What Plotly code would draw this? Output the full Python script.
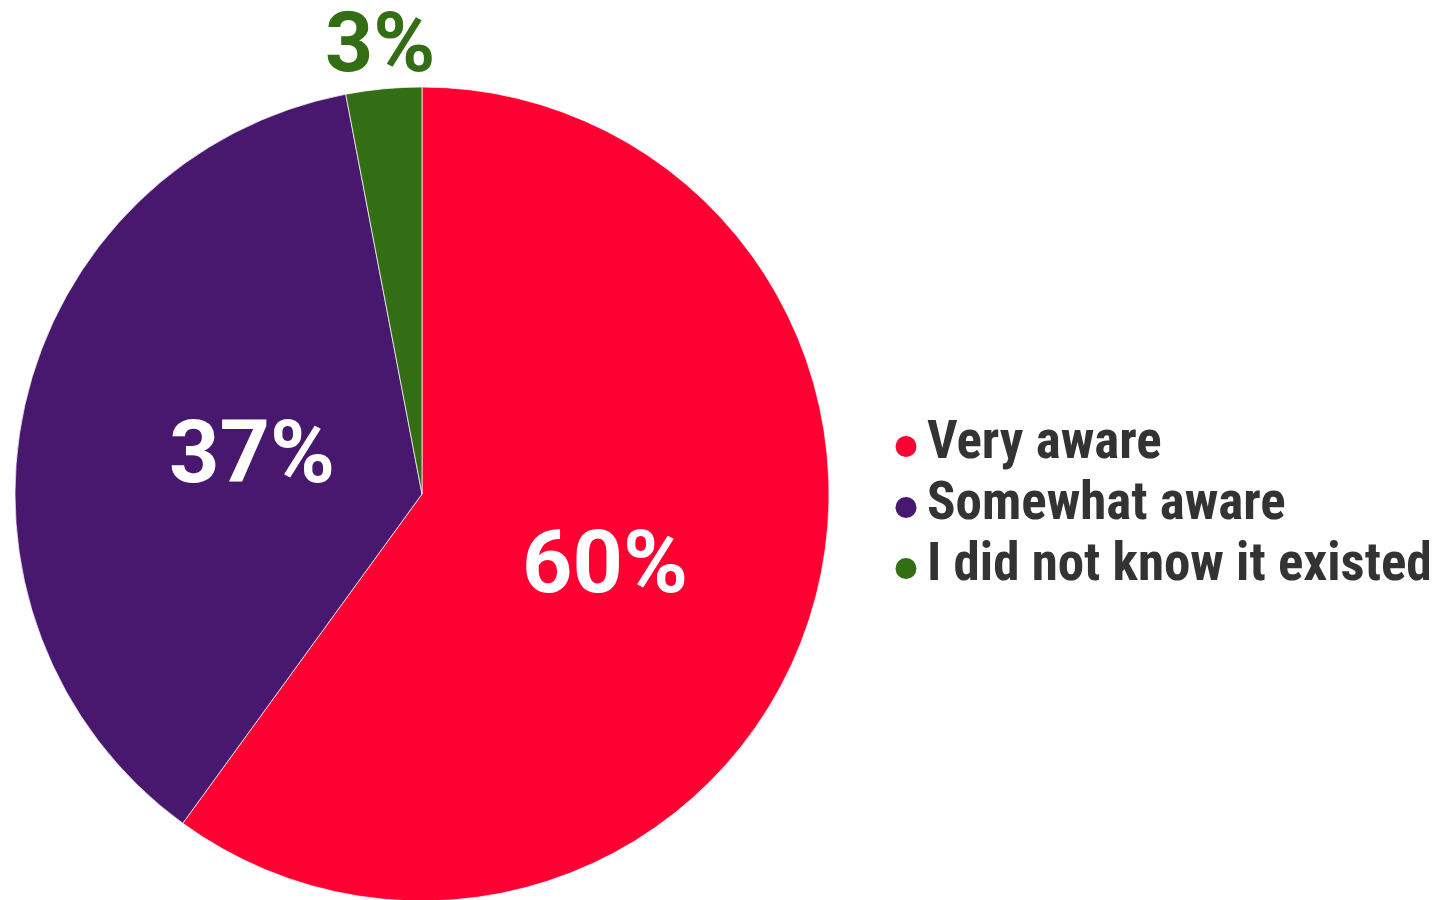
import numpy as np
import plotly.graph_objects as go

categories = ["Very aware", "Somewhat aware", "I did not know it existed"]
values = [60, 37, 3]
colors = ["#FF0033", "#48186E", "#336E14"]
label_text = ["60%", "37%", "3%"]
label_inside = [True, True, False]

W, H = 1437, 900
# page body has an 8px margin; domain expressed in figure pixels
dom_x = [7 / W, 821 / W]
dom_y = [7 / H, 821 / H]

fig = go.Figure()

fig.add_trace(go.Pie(
    labels=categories,
    values=values,
    textinfo="none",
    sort=False,
    direction="clockwise",
    rotation=0,
    marker=dict(colors=colors, line=dict(color="#ffffff", width=0.7)),
    showlegend=False,
    domain=dict(x=dom_x, y=dom_y),
    hoverinfo="label+percent",
))

# Slice labels placed from the slice geometry (derived from the values)
cx_px = (dom_x[0] + dom_x[1]) / 2 * W
cy_px = H - (dom_y[0] + dom_y[1]) / 2 * H
r_px = min((dom_x[1] - dom_x[0]) * W, (dom_y[1] - dom_y[0]) * H) / 2
total = float(sum(values))
cum = np.cumsum([0] + values[:-1])
for val, start, txt, inside, col in zip(values, cum, label_text, label_inside, colors):
    if inside:
        mid = np.deg2rad((start + val / 2) / total * 360.0 + 2.0)
        rr = 0.455 * r_px
        px = cx_px + rr * np.sin(mid)
        py = cy_px - rr * np.cos(mid)
        fig.add_annotation(
            x=px / W, y=1 - py / H, xref="paper", yref="paper",
            text=txt, showarrow=False, xanchor="center", yanchor="middle",
            xshift=9, yshift=-4,
            font=dict(family="Roboto", size=88, color="#ffffff", weight="bold"),
        )
    else:
        mid = np.deg2rad((start + val / 2) / total * 360.0)
        px = cx_px + r_px * np.sin(mid)
        py = cy_px - r_px * np.cos(mid)
        fig.add_annotation(
            x=px / W, y=1 - py / H, xref="paper", yref="paper",
            text=txt, showarrow=False, xanchor="center", yanchor="bottom",
            yshift=-5, xshift=-4,
            font=dict(family="Roboto", size=84, color=col, weight="bold"),
        )

# Custom legend: circle markers and labels on hidden category axes
leg_font = dict(family="Roboto Condensed, Liberation Sans Narrow, DejaVu Sans Condensed, Roboto",
                size=53, color="#333333", weight="bold")
fig.add_trace(go.Scatter(
    x=[0] * len(categories), y=categories, mode="markers",
    marker=dict(color=colors, size=21, symbol="circle"),
    xaxis="x2", yaxis="y2", showlegend=False, hoverinfo="skip", cliponaxis=False,
))
fig.add_trace(go.Scatter(
    x=[0] * len(categories), y=categories, mode="text",
    text=categories, textposition="middle right", textfont=leg_font,
    xaxis="x3", yaxis="y3", showlegend=False, hoverinfo="skip", cliponaxis=False,
))

cat_rev = categories[::-1]
hidden = dict(visible=False, showgrid=False, zeroline=False, fixedrange=True)
leg_top_px, leg_bot_px = 408, 591
shift_px = 2
fig.update_layout(
    width=W, height=H,
    margin=dict(l=0, r=0, t=0, b=0),
    paper_bgcolor="#ffffff",
    plot_bgcolor="rgba(0,0,0,0)",
    showlegend=False,
    xaxis=dict(hidden),
    yaxis=dict(hidden),
    xaxis2=dict(hidden, domain=[898 / W, 1.0], range=[0, 1], anchor="y2"),
    yaxis2=dict(hidden, domain=[1 - leg_bot_px / H, 1 - leg_top_px / H],
                type="category", categoryorder="array", categoryarray=cat_rev,
                range=[-0.5, 2.5], anchor="x2"),
    xaxis3=dict(hidden, domain=[919 / W, 1.0], range=[0, 1], anchor="y3"),
    yaxis3=dict(hidden, domain=[1 - (leg_bot_px - shift_px) / H, 1 - (leg_top_px - shift_px) / H],
                type="category", categoryorder="array", categoryarray=cat_rev,
                range=[-0.5, 2.5], anchor="x3"),
)

fig.write_html("out.html")
